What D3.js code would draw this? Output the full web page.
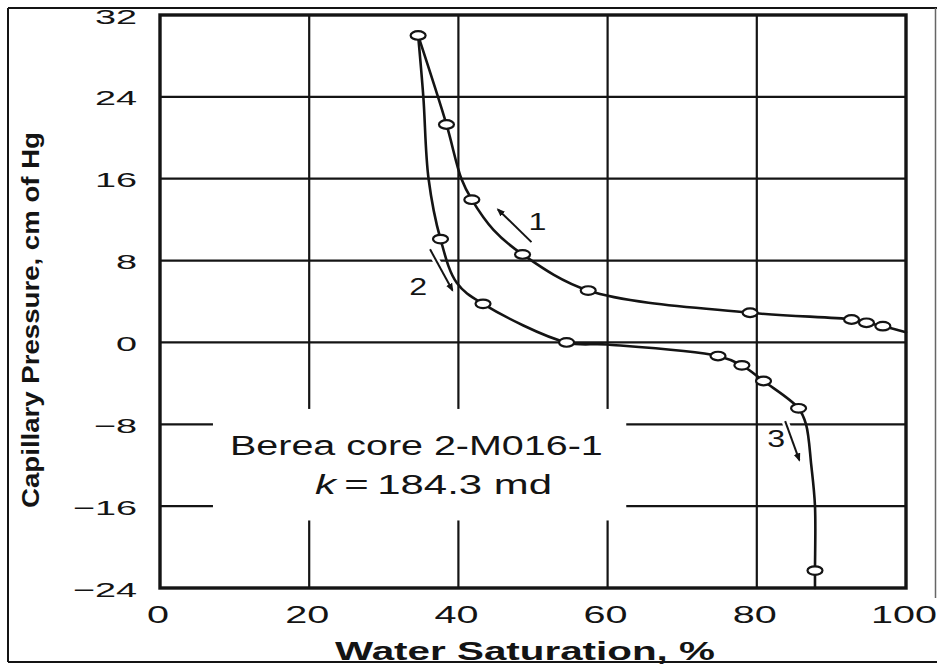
<!DOCTYPE html>
<html>
<head>
<meta charset="utf-8">
<script src="https://cdn.jsdelivr.net/npm/d3@7"></script>
<style>
  html, body { margin: 0; padding: 0; background: #fff; }
  svg { display: block; font-family: "Liberation Sans", Arial, Helvetica, sans-serif; }
</style>
</head>
<body>
<svg id="chart" width="937" height="664"></svg>
<script>
// Capillary pressure hysteresis, Berea core 2-M016-1
// Curve 1: drainage (water saturation decreasing toward the top point)
const drainSw = [34.6, 38.4, 40.4, 41.8, 44.7, 48.6, 57.4, 79.1, 92.7, 94.7, 96.9, 100];
const drainPc = [30.0, 21.3, 16.0, 13.95, 11.0, 8.6, 5.07, 2.9, 2.24, 1.92, 1.59, 1.0];
const drainMeasured = [1, 1, 0, 1, 0, 1, 1, 1, 1, 1, 1, 0];

// Curves 2 and 3: spontaneous then forced imbibition
const imbSw = [34.6, 35.3, 36.0, 37.6, 39.8, 43.3, 54.5, 59.9, 74.8, 78.0, 80.9, 85.6, 86.6, 87.3, 87.8, 87.8, 87.8];
const imbPc = [30.0, 24.0, 16.0, 10.1, 5.8, 3.77, 0.0, -0.2, -1.33, -2.24, -3.77, -6.44, -8.0, -12.0, -16.0, -22.3, -24.0];
const imbMeasured = [0, 0, 0, 1, 0, 1, 1, 0, 1, 1, 1, 1, 0, 0, 0, 1, 0];

// Axis ticks
const xTicks = [0, 20, 40, 60, 80, 100];
const yTicks = [32, 24, 16, 8, 0, -8, -16, -24];

// Direction arrows and their numbers (Sw, Pc)
const arrowIds = ["1", "2", "3"];
const arrowFrom = [[49.8, 9.8], [36.2, 9.1], [83.8, -7.7]];
const arrowTo = [[45.3, 13.0], [39.2, 5.1], [85.7, -11.5]];
const arrowNum = [[50.6, 11.8], [34.6, 5.4], [82.6, -9.4]];

// Annotation
const noteLines = ["Berea core 2-M016-1", "184.3 md"];

const svg = d3.select("#chart");
const margin = { left: 160, right: 31, top: 15, bottom: 76 };
const W = 937, H = 664;

const x = d3.scaleLinear().domain([0, 100]).range([margin.left, W - margin.right]);
const y = d3.scaleLinear().domain([-24, 32]).range([H - margin.bottom, margin.top]);

const ink = "#141414";

// outer frame
const frame = svg.append("g").attr("fill", "none").attr("stroke", ink).attr("stroke-width", 2);
frame.append("line").attr("x1", 8).attr("y1", 8).attr("x2", 8).attr("y2", 662);
frame.append("line").attr("x1", 8).attr("y1", 8).attr("x2", 937).attr("y2", 8);
frame.append("line").attr("x1", 8).attr("y1", 662).attr("x2", 937).attr("y2", 662);
frame.append("line").attr("x1", 935.5).attr("y1", 8).attr("x2", 935.5).attr("y2", 598)
  .attr("stroke", "#666").attr("stroke-width", 1.5);

// grid
const grid = svg.append("g").attr("stroke", ink).attr("stroke-width", 2.2);
grid.selectAll("line.v").data(xTicks.slice(1, -1)).join("line")
  .attr("x1", d => x(d)).attr("x2", d => x(d))
  .attr("y1", y(32)).attr("y2", y(-24));
grid.selectAll("line.h").data(yTicks.slice(1, -1)).join("line")
  .attr("y1", d => y(d)).attr("y2", d => y(d))
  .attr("x1", x(0)).attr("x2", x(100));

// clear space behind the annotation
svg.append("rect")
  .attr("x", x(7.1)).attr("y", y(-6.5))
  .attr("width", x(62.5) - x(7.1)).attr("height", y(-17.4) - y(-6.5))
  .attr("fill", "#fff");

// plot border
svg.append("rect")
  .attr("x", x(0)).attr("y", y(32))
  .attr("width", x(100) - x(0)).attr("height", y(-24) - y(32))
  .attr("fill", "none").attr("stroke", ink).attr("stroke-width", 3.4);

// text helper: horizontally stretched labels
function label(parent, opts) {
  const g = parent.append("g")
    .attr("transform", `translate(${opts.x},${opts.y})` + (opts.rotate ? ` rotate(${opts.rotate})` : ""));
  const t = g.append("text")
    .attr("font-size", opts.size)
    .attr("font-weight", opts.weight || "normal")
    .attr("text-anchor", opts.anchor || "start")
    .attr("fill", ink);
  if (opts.build) opts.build(t); else t.text(opts.text);
  let sx = opts.sx || 1;
  if (opts.width) sx = opts.width / t.node().getComputedTextLength();
  t.attr("transform", `scale(${sx},1)`);
  if (opts.halo) {
    t.attr("stroke", "#fff").attr("stroke-width", opts.halo).attr("paint-order", "stroke");
  }
  return t;
}

// tick labels
const fmt = v => (v < 0 ? "\u2212" + Math.abs(v) : String(v));
yTicks.forEach(v => label(svg, { x: 137, y: y(v) + 8.5, text: fmt(v), size: 21, sx: 1.8, anchor: "end" }));
xTicks.forEach(v => label(svg, { x: x(v) - 2, y: 623, text: fmt(v), size: 24, sx: 1.65, anchor: "middle", halo: v === 100 ? 4 : 0 }));

// axis titles
label(svg, { x: 525, y: 660, text: "Water Saturation, %", size: 25, weight: "bold", anchor: "middle", width: 380 });
label(svg, { x: 39, y: 320, text: "Capillary Pressure, cm of Hg", size: 24, weight: "bold", anchor: "middle", width: 376, rotate: -90 });

// curves
const line = d3.line().x(d => x(d[0])).y(d => y(d[1])).curve(d3.curveCatmullRom.alpha(0.5));
const drain = drainSw.map((s, i) => [s, drainPc[i], drainMeasured[i]]);
const imb = imbSw.map((s, i) => [s, imbPc[i], imbMeasured[i]]);

const curves = svg.append("g").attr("fill", "none").attr("stroke", ink)
  .attr("stroke-linejoin", "round").attr("stroke-linecap", "round");
curves.append("path").datum(drain).attr("d", line).attr("stroke-width", 2.6);
curves.append("path").datum(imb).attr("d", line).attr("stroke-width", 2.6);

// arrows
const defs = svg.append("defs");
defs.append("marker").attr("id", "head")
  .attr("viewBox", "0 0 10 10").attr("refX", 8).attr("refY", 5)
  .attr("markerWidth", 4.2).attr("markerHeight", 4.2).attr("orient", "auto")
  .attr("markerUnits", "strokeWidth")
  .append("path").attr("d", "M0,1 L10,5 L0,9 Z").attr("fill", ink);

const arrows = svg.append("g");
arrowIds.forEach((id, i) => {
  const [x0, y0] = [x(arrowFrom[i][0]), y(arrowFrom[i][1])];
  const [x1, y1] = [x(arrowTo[i][0]), y(arrowTo[i][1])];
  const d = `M${x0},${y0} L${x1},${y1}`;
  arrows.append("path").attr("d", d).attr("stroke", "#fff").attr("stroke-width", 7).attr("fill", "none");
  arrows.append("path").attr("d", d).attr("stroke", ink).attr("stroke-width", 2)
    .attr("fill", "none").attr("marker-end", "url(#head)");
  label(arrows, { x: x(arrowNum[i][0]), y: y(arrowNum[i][1]) + 8, text: id, size: 23, sx: 1.4, anchor: "middle", halo: 5 });
});

// data points
const pts = drain.filter(d => d[2]).concat(imb.filter(d => d[2]));
svg.append("g").selectAll("ellipse").data(pts).join("ellipse")
  .attr("cx", d => x(d[0])).attr("cy", d => y(d[1]))
  .attr("rx", 7.5).attr("ry", 4.3)
  .attr("fill", "#fff").attr("stroke", ink).attr("stroke-width", 2.2);

// annotation
label(svg, { x: 230, y: 455, text: noteLines[0], size: 27, anchor: "start", width: 373 });
label(svg, {
  x: 315, y: 494, size: 27, anchor: "start", width: 237,
  build: t => {
    t.append("tspan").attr("font-style", "italic").text("k");
    t.append("tspan").text("\u2009=\u2009" + noteLines[1]);
  }
});
</script>
</body>
</html>
